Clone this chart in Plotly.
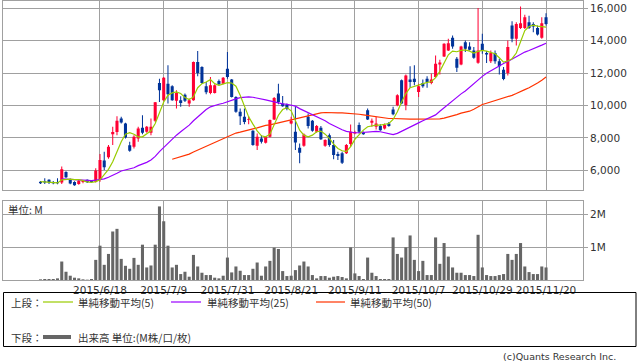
import plotly.graph_objects as go
import pandas as pd

# ---------------- data ----------------
holidays = ['2015-07-20', '2015-09-21', '2015-09-22', '2015-09-23', '2015-10-12', '2015-11-03']
days = [d for d in pd.bdate_range('2015-05-29', '2015-11-20') if d.strftime('%Y-%m-%d') not in holidays]
dates = [f"{d.year}/{d.month}/{d.day}" for d in days]

tick_labels = ['2015/6/18', '2015/7/9', '2015/7/31', '2015/8/21',
               '2015/9/11', '2015/10/7', '2015/10/29', '2015/11/20']

open_ = [5300, 5320, 5410, 5280, 5280, 5240, 5900, 5410, 5280, 5160,
         5280, 5410, 5300, 5300, 5410, 6600, 6800, 8230, 8360, 9200,
         8890, 7540, 7460, 7970, 8620, 8380, 8320, 9060, 11390, 10330,
         11350, 11190, 10290, 10330, 10670, 10120, 10330, 12680, 12380, 11190,
         10780, 10780, 11510, 11350, 12270, 11600, 10530, 9610, 9300, 9100,
         8440, 7520, 7970, 7700, 8070, 9140, 10740, 10120, 10060, 8890,
         8380, 7390, 7520, 9300, 9060, 8380, 8620, 7520, 8170, 7560,
         7000, 7050, 7050, 7620, 8280, 8790, 8360, 9710, 8930, 8690,
         8730, 8580, 8890, 9750, 10020, 11560, 10020, 11600, 11660, 10840,
         11390, 11660, 11390, 11760, 12540, 13030, 13400, 14180, 12890, 12540,
         13910, 13650, 13400, 12640, 13810, 13240, 12740, 13240, 12740, 12210,
         12010, 14940, 14120, 14790, 14790, 15140, 15040, 14790, 14180, 15450]
close = [5200, 5240, 5240, 5200, 5200, 6060, 5570, 5180, 5080, 5360,
         5300, 5260, 5280, 5980, 6640, 6190, 7460, 8360, 9060, 8950,
         8030, 7210, 8070, 8580, 8320, 8690, 8690, 10200, 10940, 11720,
         10690, 10330, 10780, 10160, 10290, 10330, 12680, 12010, 11390, 10820,
         11250, 11250, 11310, 11720, 11760, 10530, 9610, 9340, 8990, 9160,
         7560, 8070, 7760, 8070, 9100, 10470, 10220, 9960, 9790, 9060,
         7720, 7090, 8210, 8730, 8440, 8730, 7910, 7870, 7560, 6940,
         6880, 6470, 7560, 8380, 8360, 8380, 8230, 9140, 9060, 8890,
         8480, 8790, 8730, 9460, 10630, 10120, 11860, 11450, 11450, 11190,
         11190, 11450, 11600, 12580, 12660, 13810, 13850, 13650, 12330, 13650,
         13500, 13440, 12950, 13400, 13400, 13150, 13240, 12740, 12420, 11640,
         13610, 14120, 15040, 15080, 15450, 14790, 14880, 14390, 15080, 15040]
high = [5340, 5510, 5450, 5340, 5510, 6230, 5940, 5490, 5320, 5410,
        5360, 5430, 5340, 6120, 7010, 7150, 7560, 8690, 9340, 9300,
        8930, 7760, 8170, 8690, 9400, 8730, 9200, 10220, 11660, 11760,
        12480, 11250, 10940, 10570, 10740, 10430, 12720, 13360, 12420, 11450,
        11760, 11310, 11600, 11760, 13300, 11640, 10570, 9810, 9810, 9340,
        8480, 8280, 8170, 8110, 9140, 10530, 11350, 10590, 10120, 9300,
        9960, 7660, 8280, 9510, 9100, 8790, 8730, 7910, 8280, 7870,
        7150, 7150, 7620, 8830, 8440, 8950, 8400, 9810, 9200, 9300,
        8850, 8890, 8990, 9920, 10690, 11600, 11920, 12420, 12480, 11350,
        11600, 11800, 11970, 13090, 12830, 13850, 14120, 14320, 12990, 13690,
        14020, 13910, 13610, 16020, 14430, 13360, 13400, 13400, 12890, 12380,
        14020, 15200, 15140, 16110, 15610, 15550, 15140, 14940, 15450, 15700]
low = [5160, 5160, 5160, 5140, 5140, 5160, 5530, 5140, 5040, 5100,
       5200, 5220, 5240, 5240, 5300, 6020, 6720, 7560, 8170, 8890,
       7970, 7150, 7350, 7760, 8230, 8320, 8170, 8990, 10220, 10290,
       10120, 10290, 9810, 9920, 10220, 9920, 10290, 11800, 11350, 10690,
       10690, 10740, 11250, 11310, 11660, 10490, 9550, 8790, 8850, 8850,
       7520, 7250, 7660, 7660, 8030, 9100, 10080, 9920, 9710, 8850,
       7250, 6430, 7460, 8580, 8380, 8320, 7870, 7460, 7460, 6680,
       6640, 6390, 7000, 7460, 8230, 8280, 8190, 9100, 8690, 8520,
       8440, 8520, 8690, 9400, 9960, 10080, 9710, 11100, 11250, 10530,
       11100, 11100, 11310, 11720, 11920, 12990, 13360, 13500, 12070, 12480,
       13300, 13400, 12890, 12580, 13200, 12620, 12620, 12580, 11920, 11560,
       11860, 13910, 13710, 14730, 14730, 14730, 14530, 14320, 14120, 14940]

ma5 = [5300, 5280, 5240, 5220, 5220, 5410, 5450, 5450, 5430, 5430,
       5360, 5280, 5260, 5300, 5410, 5710, 6060, 6530, 7150, 7760,
       8230, 8320, 8230, 8070, 8070, 8230, 8440, 8890, 9510, 10220,
       10630, 10780, 10840, 10740, 10490, 10370, 10530, 11100, 11350, 11450,
       11600, 11350, 11250, 11350, 11410, 11390, 11190, 10630, 9920, 9300,
       8850, 8440, 8130, 8070, 8230, 8790, 9400, 9750, 9870, 9670,
       9100, 8480, 8170, 8070, 8170, 8380, 8420, 8230, 7970, 7620,
       7350, 7210, 7150, 7460, 7910, 8230, 8480, 8690, 8750, 8790,
       8790, 8830, 8890, 9140, 9610, 10220, 10740, 11100, 11190, 11250,
       11350, 11430, 11470, 11720, 12110, 12620, 13130, 13360, 13320, 13400,
       13440, 13360, 13240, 13340, 13400, 13360, 13300, 13200, 12950, 12680,
       12750, 12890, 13240, 13910, 14630, 14880, 14960, 14900, 14860, 14840]
ma25 = [None, None, None, None, None, 5470, 5470, 5450, 5430, 5410,
        5390, 5360, 5360, 5390, 5410, 5470, 5570, 5670, 5820, 5960,
        6020, 6080, 6160, 6290, 6390, 6490, 6640, 6860, 7150, 7420,
        7660, 7910, 8170, 8380, 8580, 8790, 9060, 9300, 9550, 9750,
        9920, 10020, 10080, 10140, 10240, 10330, 10410, 10490, 10530, 10530,
        10510, 10470, 10410, 10350, 10290, 10220, 10140, 10100, 10080, 10040,
        9960, 9810, 9690, 9570, 9440, 9300, 9180, 9060, 8890, 8750,
        8620, 8500, 8400, 8340, 8320, 8320, 8340, 8380, 8400, 8400,
        8380, 8320, 8230, 8210, 8280, 8400, 8540, 8690, 8810, 8930,
        9060, 9180, 9260, 9420, 9650, 9870, 10120, 10330, 10510, 10720,
        10900, 11130, 11350, 11580, 11800, 11990, 12150, 12310, 12480, 12600,
        12720, 12870, 13010, 13150, 13300, 13400, 13500, 13610, 13730, 13850]
ma50 = [None] * 31 + [
        6680, 6760, 6840, 6940, 7000, 7130, 7250, 7350, 7480,
        7620, 7740, 7870, 7990, 8110, 8210, 8300, 8360, 8440, 8500,
        8560, 8620, 8710, 8770, 8810, 8870, 8950, 9010, 9080, 9140,
        9200, 9280, 9340, 9400, 9460, 9510, 9550, 9570, 9550, 9550,
        9550, 9550, 9530, 9510, 9510, 9460, 9420, 9380, 9320, 9280,
        9260, 9220, 9200, 9200, 9180, 9160, 9160, 9160, 9160, 9160,
        9160, 9160, 9160, 9160, 9180, 9220, 9280, 9360, 9440, 9530,
        9570, 9650, 9770, 9920, 10060, 10140, 10220, 10280, 10350, 10430,
        10530, 10630, 10740, 10840, 10980, 11100, 11230, 11390, 11560, 11760]

volume_m = [0.02, 0.03, 0.03, 0.03, 0.05, 0.56, 0.25, 0.13, 0.07, 0.05,
            0.02, 0.01, 0.03, 0.61, 1.04, 0.46, 0.79, 1.47, 1.55, 0.64,
            0.43, 0.34, 0.67, 0.46, 1.07, 0.38, 0.44, 1.07, 2.23, 1.78,
            1.04, 0.38, 0.46, 0.18, 0.25, 0.10, 0.76, 0.41, 0.22, 0.15,
            0.15, 0.07, 0.05, 0.13, 0.68, 0.23, 0.41, 0.28, 0.15, 0.15,
            0.34, 0.53, 0.13, 0.41, 0.58, 0.98, 0.94, 0.27, 0.12, 0.13,
            0.30, 0.44, 0.56, 0.41, 0.15, 0.05, 0.12, 0.12, 0.07, 0.10,
            0.12, 0.09, 0.05, 0.99, 0.20, 0.12, 0.03, 0.68, 0.22, 0.12,
            0.03, 0.03, 0.03, 1.29, 0.79, 0.68, 0.99, 1.35, 0.61, 0.27,
            0.58, 0.15, 0.15, 1.29, 0.49, 1.12, 0.71, 0.38, 0.22, 0.22,
            0.15, 0.15, 0.12, 1.37, 0.38, 0.15, 0.12, 0.12, 0.15, 0.18,
            0.79, 0.61, 0.79, 1.12, 0.41, 0.24, 0.18, 0.18, 0.41, 0.38]

price_ticks = [6000, 8000, 10000, 12000, 14000, 16000]
vol_ticks = [1, 2]
vol_tick_text = ['1M', '2M']

# ---------------- styling ----------------
W, H = 638, 362
UP, DOWN = '#ff0033', '#003399'
GRID = '#a0a0a0'
TXT = '#333333'
FONT = 'DejaVu Sans'
JFONT = 'Noto Sans CJK JP'

idx = list(range(len(dates)))
tick_idx = [dates.index(t) for t in tick_labels]
colors = [UP if c >= o else DOWN for o, c in zip(open_, close)]
body_base = [min(o, c) for o, c in zip(open_, close)]
body_h = [max(abs(c - o), 60) for o, c in zip(open_, close)]
wick_h = [h - l for h, l in zip(high, low)]

def px(x):
    return x / W

def py(y):
    return 1 - y / H

fig = go.Figure()

fig.add_trace(go.Bar(x=idx, y=wick_h, base=low, width=0.24,
                     marker=dict(color=colors, line=dict(width=0)),
                     xaxis='x', yaxis='y', hoverinfo='skip'))
fig.add_trace(go.Bar(x=idx, y=body_h, base=body_base, width=0.72,
                     marker=dict(color=colors, line=dict(width=0)),
                     xaxis='x', yaxis='y', hoverinfo='skip'))
fig.add_trace(go.Scatter(x=idx, y=ma50, mode='lines', line=dict(color='#ff3300', width=1.2),
                         xaxis='x', yaxis='y'))
fig.add_trace(go.Scatter(x=idx, y=ma25, mode='lines', line=dict(color='#9900ff', width=1.2),
                         xaxis='x', yaxis='y'))
fig.add_trace(go.Scatter(x=idx, y=ma5, mode='lines', line=dict(color='#99cc00', width=1.2),
                         xaxis='x', yaxis='y'))
fig.add_trace(go.Bar(x=idx, y=volume_m, width=0.72,
                     marker=dict(color='#666666', line=dict(width=0)),
                     xaxis='x2', yaxis='y2'))

xr = [-8.83, 127.7]
common_x = dict(range=xr, tickmode='array', tickvals=tick_idx, ticktext=tick_labels,
                showgrid=True, gridcolor=GRID, gridwidth=1, zeroline=False,
                showline=True, mirror=True, linecolor=GRID, linewidth=1,
                domain=[px(3), px(583)], fixedrange=True)

fig.update_layout(
    width=W, height=H, margin=dict(l=0, r=0, t=0, b=0),
    paper_bgcolor='white', plot_bgcolor='white',
    showlegend=False, barmode='overlay', hovermode=False,
    xaxis=dict(**common_x, anchor='y', showticklabels=False, ticks=''),
    xaxis2=dict(**common_x, anchor='y2', showticklabels=True, ticks='',
                tickfont=dict(family=FONT, size=10.5, color=TXT)),
    yaxis=dict(domain=[py(190.3), py(0.7)], range=[4765, 16473], side='right',
               tickmode='array', tickvals=price_ticks, tickformat=',d',
               ticks='outside', ticklen=4, tickcolor=GRID,
               showgrid=True, gridcolor=GRID, gridwidth=1, zeroline=False,
               showline=True, mirror=True, linecolor=GRID, linewidth=1,
               tickfont=dict(family=FONT, size=10.5, color=TXT), anchor='x'),
    yaxis2=dict(domain=[py(280), py(201)], range=[0, 2.394], side='right',
                tickmode='array', tickvals=vol_ticks, ticktext=vol_tick_text,
                ticks='outside', ticklen=4, tickcolor=GRID,
                showgrid=True, gridcolor=GRID, gridwidth=1, zeroline=False,
                showline=True, mirror=True, linecolor=GRID, linewidth=1,
                tickfont=dict(family=FONT, size=10.5, color=TXT), anchor='x2'),
)

def label(x, y, text, size=11, family=JFONT, anchor='left'):
    fig.add_annotation(x=px(x), y=py(y), xref='paper', yref='paper', text=text,
                       showarrow=False, xanchor=anchor, yanchor='middle',
                       font=dict(family=family, size=size, color=TXT))

def hline(x0, x1, y, color, width):
    fig.add_shape(type='line', xref='paper', yref='paper', x0=px(x0), x1=px(x1),
                  y0=py(y), y1=py(y), line=dict(color=color, width=width))

label(6, 209, '単位: M', size=10.5)

# legend box
fig.add_shape(type='rect', xref='paper', yref='paper', x0=px(3.5), x1=px(636),
              y0=py(346.5), y1=py(292.5), line=dict(color='#000000', width=1))
label(9, 302, '上段：', size=10.5)
hline(43, 73, 302, '#99cc00', 1.2)
label(76, 302, '単純移動平均(5)', size=10.5)
hline(171, 201, 302, '#9900ff', 1.2)
label(205, 302, '単純移動平均(25)', size=10.5)
hline(316, 345, 302, '#ff3300', 1.2)
label(348, 302, '単純移動平均(50)', size=10.5)
label(9, 337, '下段：', size=10.5)
hline(43, 71, 337, '#666666', 4)
label(76, 337, '出来高 単位:(M株/口/枚)', size=10.5)
label(618, 356, '(c)Quants Research Inc.', size=9.5, family=FONT, anchor='right')

fig.write_html('out.html', config={'displayModeBar': False, 'staticPlot': True},
               post_script="document.body.style.margin='0';document.body.style.overflow='hidden';")
